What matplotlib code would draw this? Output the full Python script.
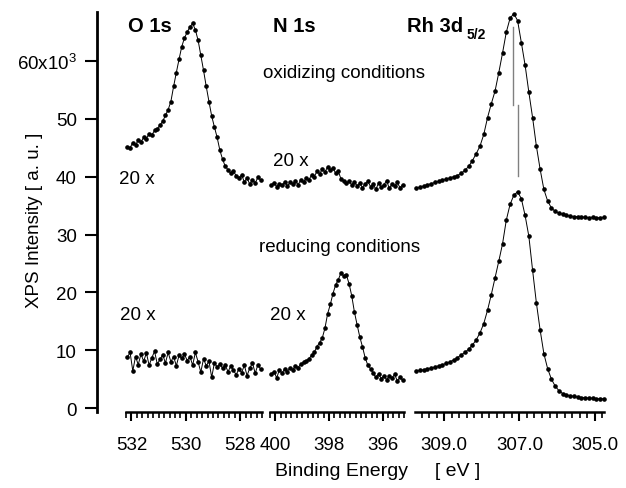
import numpy as np
import matplotlib
matplotlib.use("Agg")
import matplotlib.pyplot as plt
from matplotlib.ticker import MultipleLocator, FormatStrFormatter

plt.rcParams['font.family'] = ['Liberation Sans', 'DejaVu Sans']
plt.rcParams['mathtext.fontset'] = 'custom'
plt.rcParams['mathtext.rm'] = 'Liberation Sans'

# binding energy grids (eV), 0.1 eV steps
e_o1s = np.round(np.linspace(532.15, 527.25, 50), 2)
e_n1s = np.round(np.linspace(400.15, 395.25, 50), 2)
e_rh = np.round(np.linspace(309.75, 304.75, 51), 2)

# intensities in units of 10^3 counts (O and N already multiplied by 20 and offset)
o1s_ox = [45.2, 45.0, 45.9, 45.5, 46.3, 46.0, 46.8, 46.6, 47.4, 47.2,
          48.0, 48.3, 48.9, 49.6, 50.6, 51.6, 53.0, 55.6, 58.0, 60.3,
          62.5, 64.0, 65.0, 65.9, 66.5, 65.4, 63.6, 61.0, 58.4, 55.6,
          53.0, 50.5, 48.6, 46.8, 44.6, 43.0, 41.8, 41.2, 40.6, 40.9,
          40.2, 39.8, 40.3, 39.1, 39.8, 38.7, 39.5, 38.9, 39.9, 39.4]
n1s_ox = [38.6, 38.9, 38.3, 38.8, 38.5, 39.1, 38.4, 39.0, 38.7, 39.3,
          38.6, 39.5, 39.0, 39.8, 39.4, 40.3, 40.0, 40.9, 40.5, 41.3,
          40.8, 41.7, 41.2, 41.5, 40.6, 40.9, 39.6, 39.3, 38.9, 39.2,
          38.6, 39.1, 38.4, 38.9, 38.1, 38.8, 39.2, 38.3, 38.7, 37.8,
          38.9, 38.2, 38.6, 39.3, 38.0, 38.7, 38.4, 39.0, 38.1, 38.6]
rh_ox = [38.0, 38.2, 38.4, 38.6, 38.8, 39.0, 39.2, 39.4, 39.6, 39.8,
         40.0, 40.2, 40.6, 41.1, 41.8, 42.8, 44.0, 45.3, 47.3, 50.2,
         52.6, 54.8, 58.0, 61.4, 65.0, 67.4, 68.2, 67.0, 63.2, 59.3,
         54.6, 50.2, 45.3, 41.3, 37.8, 35.8, 34.6, 34.0, 33.7, 33.5,
         33.3, 33.2, 33.1, 33.1, 33.0, 33.0, 32.9, 33.0, 32.9, 32.9, 33.0]
o1s_red = [8.8, 9.6, 6.4, 8.9, 7.5, 9.3, 8.1, 9.5, 7.4, 8.7,
           9.8, 7.6, 8.4, 9.2, 7.8, 9.6, 8.0, 8.9, 7.3, 9.1,
           8.6, 9.3, 8.2, 8.9, 7.4, 9.6, 8.0, 6.2, 8.5, 7.3,
           8.1, 5.3, 7.8, 7.1, 7.6, 6.9, 7.4, 6.3, 7.2, 6.6,
           5.7, 6.8, 6.1, 7.4, 5.6, 6.9, 7.8, 6.0, 7.5, 6.7]
n1s_red = [5.9, 6.3, 5.2, 6.6, 6.0, 6.8, 6.3, 7.0, 6.6, 7.3,
           7.0, 7.6, 7.9, 8.2, 8.5, 9.1, 9.6, 10.6, 11.3, 12.1,
           13.8, 16.3, 17.9, 19.8, 21.3, 22.2, 23.4, 22.8, 23.0, 21.5,
           19.4, 16.6, 14.4, 12.3, 10.6, 8.7, 7.4, 6.8, 6.0, 5.3,
           5.9, 5.1, 5.6, 4.9, 5.5, 5.2, 5.8, 4.7, 5.3, 4.8]
rh_red = [6.4, 6.5, 6.6, 6.8, 6.9, 7.1, 7.3, 7.5, 7.7, 8.0,
          8.3, 8.7, 9.2, 9.6, 10.2, 10.9, 11.8, 13.0, 14.6, 16.9,
          19.6, 22.5, 25.4, 28.4, 32.5, 35.2, 36.8, 37.4, 36.2, 33.3,
          29.7, 23.8, 18.2, 13.5, 9.4, 6.8, 5.0, 3.8, 3.0, 2.5,
          2.3, 2.1, 2.0, 1.9, 1.8, 1.8, 1.7, 1.7, 1.6, 1.6, 1.6]

# Rh peak position markers (eV, y from, y to)
rh_peak_ox = (307.17, 65.9, 52.4)
rh_peak_red = (307.03, 52.4, 40.1)

yticks = [0, 10, 20, 30, 40, 50, 60]
ytick_labels = ['0', '10', '20', '30', '40', '50', '60x10$^{3}$']
o1s_ticks = [532, 530, 528]
n1s_ticks = [400, 398, 396]
rh_ticks = [309.0, 307.0, 305.0]

W, H = 626, 489
ylim = (-0.69, 68.48)


def fx(x):
    return x / W


def fy(y):
    return 1 - y / H


fig = plt.figure(figsize=(W / 100, H / 100), dpi=100)

# y axis only
ay = fig.add_axes([fx(97), fy(413), fx(604) - fx(97), fy(13) - fy(413)])
ay.patch.set_visible(False)
for s in ['top', 'right', 'bottom']:
    ay.spines[s].set_visible(False)
ay.spines['left'].set_linewidth(2)
ay.set_ylim(*ylim)
ay.set_xticks([])
ay.set_yticks(yticks)
ay.set_yticklabels(ytick_labels)
ay.tick_params(axis='y', length=8.6, width=1.5, pad=6, labelsize=13.5)

panels = [
    (126, 262, (532.2, 527.2), '%d', o1s_ticks, [(e_o1s, o1s_ox), (e_o1s, o1s_red)]),
    (270, 404, (400.2, 395.2), '%d', n1s_ticks, [(e_n1s, n1s_ox), (e_n1s, n1s_red)]),
    (415, 604, (309.78, 304.75), '%.1f', rh_ticks, [(e_rh, rh_ox), (e_rh, rh_red)]),
]
axes = []
for x0, x1, xl, fmt, ticks, curves in panels:
    ax = fig.add_axes([fx(x0), fy(413), fx(x1) - fx(x0), fy(13) - fy(413)])
    ax.patch.set_visible(False)
    for s in ['top', 'right', 'left']:
        ax.spines[s].set_visible(False)
    ax.spines['bottom'].set_linewidth(1.8)
    ax.set_xlim(*xl)
    ax.set_ylim(*ylim)
    ax.set_yticks([])
    ax.set_xticks(ticks)
    ax.xaxis.set_minor_locator(MultipleLocator(0.2))
    ax.xaxis.set_major_formatter(FormatStrFormatter(fmt))
    ax.tick_params(axis='x', which='major', length=6.5, width=1.5, pad=10.5, labelsize=13.5)
    ax.tick_params(axis='x', which='minor', length=4, width=1.2)
    for ex, iy in curves:
        ax.plot(ex, iy, color='black', lw=0.7, marker='o', ms=2.3, clip_on=False)
    axes.append(ax)

ax_rh = axes[2]
ax_rh.plot([rh_peak_ox[0]] * 2, rh_peak_ox[1:], color='#808080', lw=1)
ax_rh.plot([rh_peak_red[0]] * 2, rh_peak_red[1:], color='#808080', lw=1)

# labels
fig.text(fx(150), fy(27), 'O 1s', fontsize=14.5, fontweight='bold', ha='center', va='center')
fig.text(fx(294), fy(27), 'N 1s', fontsize=14.5, fontweight='bold', ha='center', va='center')
fig.text(fx(407), fy(27), 'Rh 3d', fontsize=14.5, fontweight='bold', ha='left', va='center')
fig.text(fx(467), fy(35), '5/2', fontsize=10, fontweight='bold', ha='left', va='center')
fig.text(fx(344), fy(74), 'oxidizing conditions', fontsize=13.5, ha='center', va='center')
fig.text(fx(340), fy(247), 'reducing conditions', fontsize=13.5, ha='center', va='center')
fig.text(fx(137), fy(180), '20 x', fontsize=13.5, ha='center', va='center')
fig.text(fx(291), fy(161), '20 x', fontsize=13.5, ha='center', va='center')
fig.text(fx(138), fy(316), '20 x', fontsize=13.5, ha='center', va='center')
fig.text(fx(288), fy(316), '20 x', fontsize=13.5, ha='center', va='center')
fig.text(fx(35), fy(220), 'XPS Intensity [ a. u. ]', fontsize=13.5, rotation=90,
         ha='center', va='center')
fig.text(fx(378), fy(472), 'Binding Energy     [ eV ]', fontsize=14, ha='center', va='center')

fig.savefig('out.png', dpi=100)
